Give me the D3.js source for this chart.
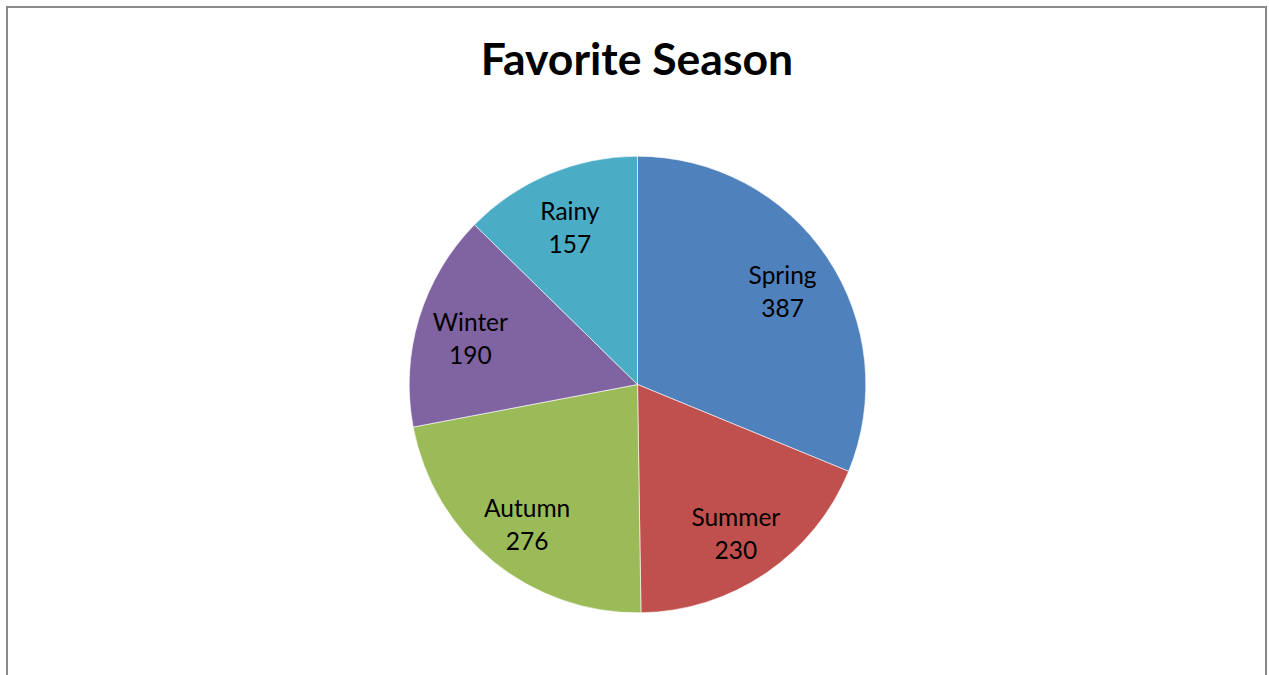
<!DOCTYPE html>
<html>
<head>
<meta charset="utf-8">
<script src="https://cdn.jsdelivr.net/npm/d3@7/dist/d3.min.js"></script>
<style>
html,body{margin:0;padding:0;background:#fff;overflow:hidden;}
</style>
</head>
<body>
<svg id="chart" width="1269" height="675"></svg>
<script>
const categories = ["Spring", "Summer", "Autumn", "Winter", "Rainy"];
const values = [387, 230, 276, 190, 157];
const colors = ["#4F81BD", "#C0504D", "#9BBB59", "#8064A2", "#4BACC6"];
const title = "Favorite Season";

const W = 1269, H = 675;
const svg = d3.select("#chart");

svg.append("rect")
  .attr("x", 7).attr("y", 7)
  .attr("width", 1259).attr("height", 720)
  .attr("fill", "#fff")
  .attr("stroke", "#898989")
  .attr("stroke-width", 2);

svg.append("text")
  .attr("x", 637).attr("y", 75)
  .attr("text-anchor", "middle")
  .attr("font-family", "Lato, 'Open Sans', sans-serif")
  .attr("font-weight", "bold")
  .attr("font-size", 44.5)
  .attr("fill", "#000")
  .text(title);

const cx = 637.5, cy = 384.5, r = 228.3;
const data = categories.map((c, i) => ({ name: c, value: values[i], color: colors[i] }));

const pie = d3.pie().value(d => d.value).sort(null);
const arcs = pie(data);
const arc = d3.arc().innerRadius(0).outerRadius(r);
const labelArc = d3.arc().innerRadius(r * 0.765).outerRadius(r * 0.765);

const g = svg.append("g").attr("transform", `translate(${cx},${cy})`);

g.selectAll("path.slice")
  .data(arcs)
  .join("path")
  .attr("class", "slice")
  .attr("d", arc)
  .attr("fill", d => d.data.color)
  .attr("stroke", "#ffffff")
  .attr("stroke-opacity", 0.6)
  .attr("stroke-width", 1);

const lbl = g.selectAll("text.lbl")
  .data(arcs)
  .join("text")
  .attr("class", "lbl")
  .attr("transform", d => `translate(${labelArc.centroid(d)})`)
  .attr("text-anchor", "middle")
  .attr("font-family", "Lato, 'Open Sans', sans-serif")
  .attr("font-size", 24.5)
  .attr("fill", "#000");

lbl.append("tspan").attr("x", 0).attr("y", -3).text(d => d.data.name);
lbl.append("tspan").attr("x", 0).attr("y", 30).text(d => d.data.value);
</script>
</body>
</html>
